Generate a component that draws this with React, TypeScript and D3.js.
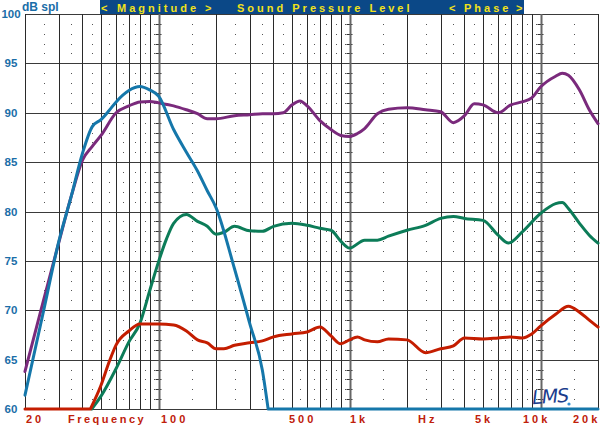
import React from 'react';
import * as d3 from 'd3';

// dB SPL, per curve
const purpleFreq = [20, 25, 30, 35, 40, 45, 50, 60, 70, 80, 90, 100, 120, 140, 160, 180, 200, 250, 300, 350, 400, 450, 500, 550, 600, 700, 800, 900, 1000, 1100, 1200, 1400, 1600, 2000, 2500, 3000, 3500, 4000, 4500, 5000, 6000, 7000, 8000, 9000, 10000, 12000, 13000, 14000, 16000, 18000, 20000];
const purpleDb = [63.8, 71.0, 76.8, 81.6, 85.2, 86.6, 87.7, 90.0, 90.7, 91.1, 91.15, 91.0, 90.7, 90.3, 89.9, 89.4, 89.4, 89.7, 89.8, 89.9, 89.9, 90.0, 90.8, 91.2, 90.7, 89.2, 88.3, 87.7, 87.6, 87.9, 88.4, 89.9, 90.35, 90.5, 90.3, 90.1, 89.0, 89.7, 90.9, 90.8, 90.0, 90.8, 91.1, 91.5, 92.6, 93.7, 94.0, 93.8, 92.3, 90.3, 88.9];

const blueFreq = [20, 25, 30, 35, 40, 45, 50, 55, 60, 70, 80, 90, 100, 120, 140, 160, 180, 200, 250, 300, 350, 375, 20000];
const blueDb = [61.4, 69.9, 76.9, 81.6, 85.9, 88.6, 89.3, 90.2, 91.1, 92.25, 92.65, 92.3, 91.7, 88.3, 86.0, 84.1, 82.1, 80.4, 74.2, 68.7, 63.9, 60, 60];

const greenFreq = [44.7, 50, 60, 70, 80, 90, 100, 110, 120, 140, 160, 180, 200, 220, 250, 300, 350, 400, 500, 600, 700, 800, 900, 1000, 1200, 1400, 1600, 2000, 2500, 3000, 3500, 4000, 5000, 6000, 6800, 8000, 10000, 12000, 13000, 14000, 16000, 18000, 20000];
const greenDb = [60, 61.3, 64.1, 66.8, 68.7, 72.0, 74.9, 77.2, 78.8, 79.7, 79.0, 78.5, 77.7, 77.9, 78.5, 78.05, 78.0, 78.5, 78.8, 78.6, 78.3, 78.1, 77.0, 76.3, 77.1, 77.1, 77.5, 78.1, 78.6, 79.3, 79.5, 79.3, 79.1, 77.6, 76.8, 77.9, 79.8, 80.8, 80.9, 80.3, 78.8, 77.6, 76.8];

const redFreq = [20, 44, 50, 55, 60, 70, 80, 100, 120, 140, 160, 180, 200, 220, 250, 300, 350, 400, 500, 600, 700, 800, 900, 1000, 1100, 1200, 1400, 1600, 2000, 2500, 3000, 3500, 4000, 5000, 6000, 7000, 8000, 9000, 10000, 12000, 14000, 16000, 18000, 20000];
const redDb = [60, 60, 62.4, 64.7, 66.5, 67.9, 68.6, 68.6, 68.5, 67.9, 67.0, 66.7, 66.1, 66.1, 66.45, 66.7, 66.9, 67.3, 67.6, 67.8, 68.3, 67.4, 66.6, 67.0, 67.3, 67.0, 66.8, 67.1, 67.0, 65.7, 66.1, 66.4, 67.2, 67.1, 67.2, 67.3, 67.2, 67.6, 68.4, 69.6, 70.4, 69.8, 69.0, 68.3];

const yTicks = [100, 95, 90, 85, 80, 75, 70, 65, 60];
const bottomLabels = ['20', 'Frequency', '100', '500', '1k', 'Hz', '5k', '10k', '20k'];
const bottomLabelX = [26, 68, 161, 289, 350, 418, 475, 523, 573];
const headerParts = ['<', 'Magnitude', '>', 'Sound Pressure Level', '<', 'Phase', '>'];
const headerX = [101, 117, 205, 237, 449, 464, 516];

const series = [
  { freq: purpleFreq, db: purpleDb, color: '#7a2a7c' },
  { freq: greenFreq, db: greenDb, color: '#0c7c58' },
  { freq: redFreq, db: redDb, color: '#c41d00' },
  { freq: blueFreq, db: blueDb, color: '#1577aa' },
];

const FONT = '"Liberation Sans", Arial, sans-serif';

const App: React.FC = () => {
  const width = 600;
  const height = 425;
  const x = d3.scaleLog().domain([20, 20000]).range([25, 598]);
  const y = d3.scaleLinear().domain([60, 100]).range([409, 14]);

  // grid lines: 1..9 in every decade, plus the dotted half-steps
  const majors: number[] = [];
  const halves: number[] = [];
  [10, 100, 1000, 10000].forEach(b => {
    for (let k = 1; k <= 9; k++) {
      if (k * b >= 20 && k * b <= 20000) majors.push(k * b);
      const h = (k + 0.5) * b;
      if (h > 20 && h < 20000) halves.push(h);
    }
  });
  majors.push(20000);
  const decades = [100, 1000, 10000];
  const dbRows = d3.range(61, 100).filter(d => d % 5 !== 0);

  const smooth = d3.line<[number, number]>()
    .x(d => x(d[0]))
    .y(d => y(d[1]))
    .curve(d3.curveMonotoneX);
  const straight = d3.line<[number, number]>()
    .x(d => x(d[0]))
    .y(d => y(d[1]));

  // flat runs along the floor are straight, the rest smoothed
  const pathFor = (freq: number[], db: number[]) => {
    const pts: [number, number][] = freq.map((f, i) => [f, db[i]]);
    const parts: string[] = [];
    let i = 0;
    while (i < pts.length - 1) {
      if (pts[i][1] === 60 && pts[i + 1][1] === 60) {
        let j = i + 1;
        while (j < pts.length - 1 && pts[j + 1][1] === 60) j++;
        parts.push(straight(pts.slice(i, j + 1)) || '');
        i = j;
      } else {
        let j = i + 1;
        while (j < pts.length - 1 && !(pts[j][1] === 60 && pts[j + 1][1] === 60)) j++;
        parts.push(smooth(pts.slice(i, j + 1)) || '');
        i = j;
      }
    }
    return parts.join('');
  };

  return (
    <svg width={width} height={height} style={{ position: 'absolute', left: 0, top: 0, background: '#fff' }}>
      {/* dotted minor grid */}
      {halves.map(h => dbRows.map(d => (
        <rect key={`d${h}-${d}`} x={Math.round(x(h))} y={Math.round(y(d))} width={1} height={1} fill="#555" />
      )))}
      {decades.map(f => dbRows.map(d => (
        <line key={`t${f}-${d}`} x1={x(f) - 3} x2={x(f) + 3} y1={Math.round(y(d)) + 0.5} y2={Math.round(y(d)) + 0.5} stroke="#333" strokeWidth={1} />
      )))}
      {yTicks.map(d => (
        <line key={`h${d}`} x1={25} x2={598} y1={Math.round(y(d)) + 0.5} y2={Math.round(y(d)) + 0.5} stroke="#3a3a3a" strokeWidth={1.2} />
      ))}
      {majors.map(f => (
        <line key={`v${f}`} x1={Math.round(x(f)) + 0.5} x2={Math.round(x(f)) + 0.5} y1={14} y2={409}
          stroke={decades.includes(f) ? '#666' : '#2a2a2a'} strokeWidth={decades.includes(f) ? 2 : 1} />
      ))}

      {series.map((s, i) => (
        <path key={i} d={pathFor(s.freq, s.db)} fill="none" stroke={s.color} strokeWidth={3} strokeLinejoin="round" strokeLinecap="round" />
      ))}

      {/* header band */}
      <rect x={100} y={0} width={424} height={14} fill="#0b4887" />
      {headerParts.map((t, i) => (
        <text key={`hd${i}`} x={headerX[i]} y={11.5} fill="#f2e21a" fontFamily={FONT} fontWeight="bold" fontSize={11} letterSpacing={3} style={{ whiteSpace: 'pre' }}>{t}</text>
      ))}

      <text x={22} y={11} fill="#1a6ea8" fontFamily={FONT} fontWeight="bold" fontSize={12}>dB spl</text>
      {yTicks.map(d => (
        <text key={`yl${d}`} x={11} y={y(d) + 4} textAnchor="middle" fill="#1a6ea8" fontFamily={FONT} fontWeight="bold" fontSize={11.5}>{d}</text>
      ))}
      {bottomLabels.map((t, i) => (
        <text key={`xl${i}`} x={bottomLabelX[i]} y={423} fill="#c0200a" fontFamily={FONT} fontWeight="bold" fontSize={11}
          letterSpacing={t === 'Frequency' ? 2.5 : 3}>{t}</text>
      ))}

      {/* signature */}
      <text x={532} y={403} fill="#1b3c8c" fontFamily={'"DejaVu Sans", sans-serif'} fontStyle="italic" fontSize={19} letterSpacing={-1} transform="rotate(-4 550 395)">LMS</text>
      <circle cx={569} cy={404} r={1.6} fill="#3a8fd0" />
    </svg>
  );
};

export default App;
